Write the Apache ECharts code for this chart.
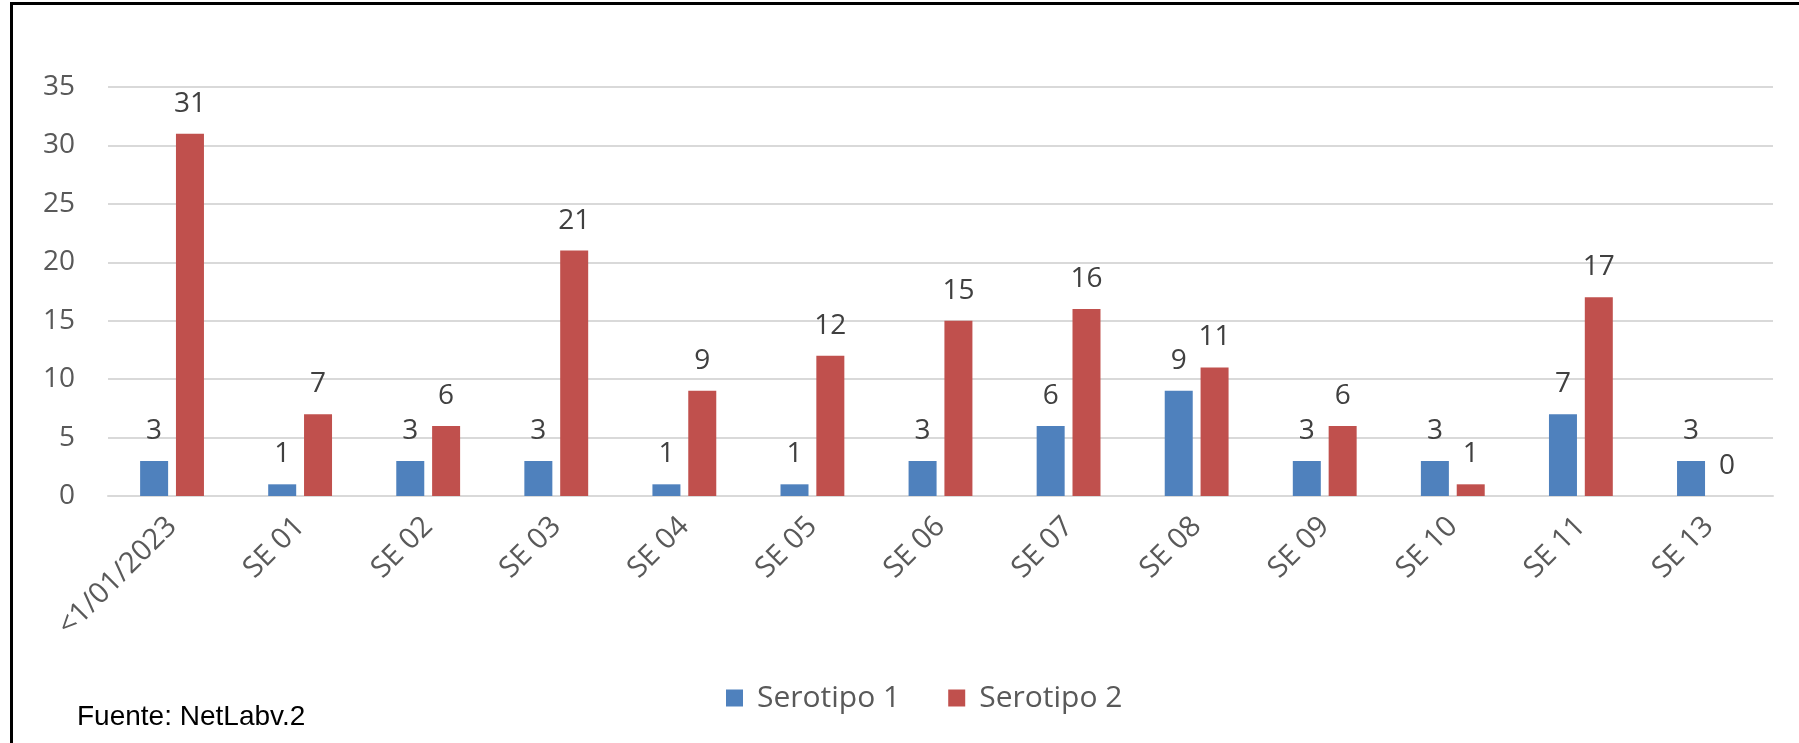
<!DOCTYPE html>
<html>
<head>
<meta charset="utf-8">
<script src="https://cdn.jsdelivr.net/npm/echarts@6/dist/echarts.min.js"></script>
<style>
html,body{margin:0;padding:0;background:#fff;}
#chart{width:1799px;height:743px;}
</style>
</head>
<body>
<div id="chart"></div>
<script>
const categories = ['<1/01/2023','SE 01','SE 02','SE 03','SE 04','SE 05','SE 06','SE 07','SE 08','SE 09','SE 10','SE 11','SE 13'];
const serotipo1 = [3,1,3,3,1,1,3,6,9,3,3,7,3];
const serotipo2 = [31,7,6,21,9,12,15,16,11,6,1,17,0];
const seriesNames = ['Serotipo 1','Serotipo 2'];
const yTicks = {min:0, max:35, interval:5};
const sourceNote = 'Fuente: NetLabv.2';

const chart = echarts.init(document.getElementById('chart'));
const labelStyle = {show:true, position:'top', distance:16, color:'#404040', fontSize:28, fontFamily:'Open Sans'};
chart.setOption({
  animation:false,
  backgroundColor:'#fff',
  grid:{left:108, right:26, top:87, bottom:247, containLabel:false},
  legend:{
    data:seriesNames, left:721, top:677, itemWidth:17, itemHeight:17, itemGap:48,
    icon:'rect',
    textStyle:{color:'#595959', fontSize:30, fontFamily:'Open Sans', lineHeight:32, padding:[0,0,0,9]}
  },
  xAxis:{
    type:'category', data:categories,
    axisLine:{lineStyle:{color:'#d9d9d9', width:2}},
    axisTick:{show:false},
    axisLabel:{rotate:45, margin:26, color:'#595959', fontSize:29, fontFamily:'Open Sans', interval:0}
  },
  yAxis:{
    type:'value', min:yTicks.min, max:yTicks.max, interval:yTicks.interval,
    axisLine:{show:false}, axisTick:{show:false},
    axisLabel:{margin:33, color:'#595959', fontSize:28, fontFamily:'Open Sans'},
    splitLine:{lineStyle:{color:'#d9d9d9', width:2}}
  },
  series:[
    {name:seriesNames[0], type:'bar', data:serotipo1, barWidth:28, barGap:'28%', itemStyle:{color:'#4F81BD'}, label:labelStyle},
    {name:seriesNames[1], type:'bar', data:serotipo2, barWidth:28, barGap:'28%', itemStyle:{color:'#C0504D'}, label:labelStyle}
  ],
  graphic:[
    {type:'rect', shape:{x:10, y:2, width:1789, height:3}, style:{fill:'#000'}, silent:true},
    {type:'rect', shape:{x:10, y:2, width:3, height:741}, style:{fill:'#000'}, silent:true},
    {type:'text', left:77, top:703, style:{text:sourceNote, fill:'#000', font:'28px "Liberation Sans", Arial, sans-serif'}}
  ]
});
</script>
</body>
</html>
